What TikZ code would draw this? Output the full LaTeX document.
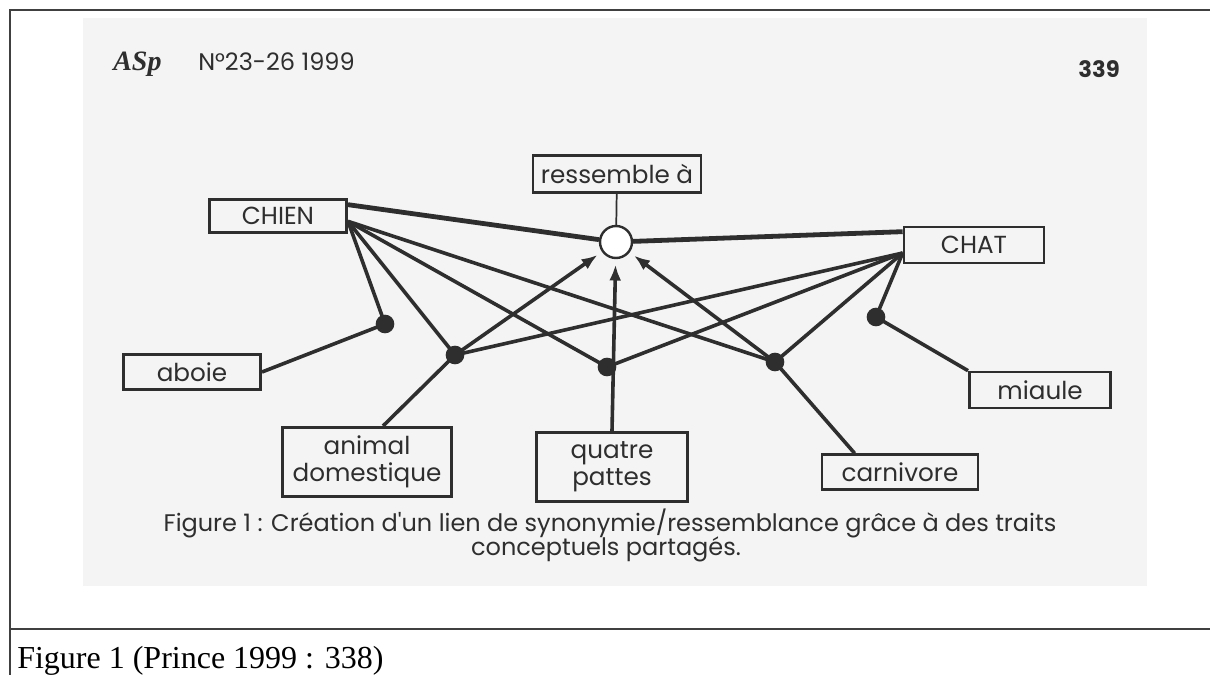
\documentclass[tikz,border=0pt]{standalone}
\usepackage{fontspec}
\setmainfont{Liberation Serif}
\newfontfamily\lblfont{Poppins}
\usetikzlibrary{arrows.meta}
\definecolor{ink}{HTML}{2E2E2E}
\definecolor{scan}{HTML}{F4F4F4}

\begin{document}
\begin{tikzpicture}[x=0.75pt, y=-0.75pt, >={Latex[length=12pt,width=9pt]},
    box/.style={draw=ink, line width=2pt, fill=scan, inner sep=0pt, align=center,
        font=\lblfont\fontsize{18.5}{20}\selectfont, text=ink},
    dot/.style={circle, fill=ink, inner sep=0pt, minimum size=14pt},
    link/.style={draw=ink, line width=2.7pt},
    heavy/.style={draw=ink, line width=3.6pt}]

\useasboundingbox (0,0) rectangle (1210,675);
% frame of the table cell
\draw[black!75, line width=1.1pt] (1210,10) -- (10,10) -- (10,675);
\draw[black!75, line width=1.1pt] (10,629) -- (1210,629);
% scanned page
\fill[scan] (83,18) rectangle (1147,586);

% page header
\node[font=\bfseries\itshape\fontsize{21}{24}\selectfont, text=ink, anchor=base west, inner sep=0pt] (journal) at (113,70) {ASp};
\node[font=\lblfont\fontsize{18}{20}\selectfont, text=ink, anchor=base west, inner sep=0pt] (issue) at (198,70) {N°23-26 1999};
\node[font=\lblfont\bfseries\fontsize{17}{20}\selectfont, text=ink, anchor=base east, inner sep=0pt] (page) at (1120,77) {339};

% concepts
\node[box, minimum width=126pt, minimum height=28pt] (simil) at (617,174) {ressemble à};
\node[circle, draw=ink, line width=1.8pt, fill=white, minimum size=24pt, inner sep=0pt] (hub) at (616,242) {};
\node[box, minimum width=103pt, minimum height=25pt] (chien) at (278,216) {CHIEN};
\node[box, minimum width=105pt, minimum height=27pt] (chat) at (974,245) {CHAT};
\node[box, minimum width=103pt, minimum height=26pt] (aboie) at (192,372) {aboie};
\node[box, minimum width=106pt, minimum height=27pt] (miaule) at (1040,390) {miaule};
\node[box, minimum width=127pt, minimum height=52pt] (animal) at (367,462) {animal\\domestique};
\node[box, minimum width=113pt, minimum height=52pt] (quatre) at (612,467) {quatre\\pattes};
\node[box, minimum width=117pt, minimum height=26pt] (carn) at (900,472) {carnivore};

% shared features
\coordinate (dA) at (385,324);
\coordinate (dD) at (455,355);
\coordinate (dQ) at (607,367);
\coordinate (dC) at (775,362);
\coordinate (dM) at (876,317);

\draw[heavy] ([yshift=8.5pt]chien.east) -- (hub);
\draw[heavy] ([yshift=10pt]chat.west) -- (hub);
\draw[ink, line width=1.3pt] (simil) -- (hub);
\foreach \d in {dA,dD,dQ,dC}
    \draw[link] ([yshift=-4pt]chien.east) -- (\d);
\foreach \d in {dD,dQ,dC,dM}
    \draw[link] ([yshift=-6pt]chat.west) -- (\d);
\draw[link] (aboie.east) -- (dA);
\draw[link] ([xshift=12pt]animal.north) -- (dD);
\draw[link] ([xshift=-34pt]carn.north) -- (dC);
\draw[link] (miaule.north west) -- (dM);
\draw[link, ->, shorten >=4pt] (dD) -- (hub);
\draw[link, ->, shorten >=4pt] (quatre.north) -- (hub);
\draw[link, ->, shorten >=4pt] (dC) -- (hub);

\node[dot] (dotA) at (dA) {};
\node[dot] (dotD) at (dD) {};
\node[dot] (dotQ) at (dQ) {};
\node[dot] (dotC) at (dC) {};
\node[dot] (dotM) at (dM) {};

% caption of the scanned figure
\node[font=\lblfont\fontsize{18}{20}\selectfont, text=ink, anchor=base, inner sep=0pt] (cap1) at (610,531)
    {Figure 1 : Création d'un lien de synonymie/ressemblance grâce à des traits};
\node[font=\lblfont\fontsize{18}{20}\selectfont, text=ink, anchor=base, inner sep=0pt] (cap2) at (606,555)
    {conceptuels partagés.};

% source line
\node[font=\fontsize{24}{28}\selectfont, anchor=base west, inner sep=0pt] (source) at (17,668) {Figure 1 (Prince 1999 : 338)};
\end{tikzpicture}
\end{document}
